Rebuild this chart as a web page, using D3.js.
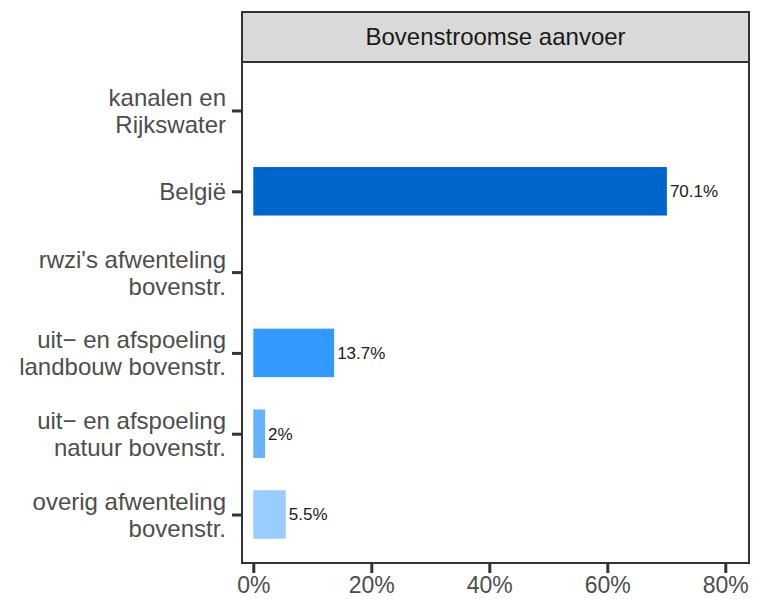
<!DOCTYPE html>
<html>
<head>
<meta charset="utf-8">
<script src="https://cdn.jsdelivr.net/npm/d3@7"></script>
<style>
  body { margin: 0; background: #fff; }
  text { font-family: "Liberation Sans", Arial, sans-serif; }
</style>
</head>
<body>
<div id="chart"></div>
<script>
// data
var categories = [
  ["kanalen en", "Rijkswater"],
  ["België"],
  ["rwzi's afwenteling", "bovenstr."],
  ["uit\u2212 en afspoeling", "landbouw bovenstr."],
  ["uit\u2212 en afspoeling", "natuur bovenstr."],
  ["overig afwenteling", "bovenstr."]
];
var values = [null, 70.1, null, 13.7, 2, 5.5];
var valueLabels = ["", "70.1%", "", "13.7%", "2%", "5.5%"];
var barColors = ["#0066CC", "#0066CC", "#0066CC", "#3399FF", "#66B2FF", "#99CCFF"];
var xTicks = [0, 20, 40, 60, 80];
var stripTitle = "Bovenstroomse aanvoer";

// boilerplate setup
var width = 757, height = 599;
var panel = { left: 242, right: 749, top: 62, bottom: 563 };
var stripTop = 12;

var svg = d3.select("#chart")
  .append("svg")
  .attr("width", width)
  .attr("height", height);

// scales
var x = d3.scaleLinear().domain([0, 80]).range([253.3, 725.3]);
var y = d3.scalePoint()
  .domain(d3.range(categories.length))
  .range([panel.top, panel.bottom])
  .padding(0.6);
var barH = y.step() * 0.6;

// strip on top of the panel
svg.append("rect")
  .attr("x", panel.left)
  .attr("y", stripTop)
  .attr("width", panel.right - panel.left)
  .attr("height", panel.top - stripTop)
  .attr("fill", "#D9D9D9")
  .attr("stroke", "#333333")
  .attr("stroke-width", 2);

svg.append("text")
  .attr("x", (panel.left + panel.right) / 2)
  .attr("y", (stripTop + panel.top) / 2)
  .attr("dy", "0.35em")
  .attr("text-anchor", "middle")
  .attr("font-size", 24)
  .attr("fill", "#1A1A1A")
  .text(stripTitle);

// bars
var rows = categories.map(function(c, i) {
  return { i: i, value: values[i], label: valueLabels[i], color: barColors[i] };
}).filter(function(d) { return d.value != null; });

svg.selectAll(".bar")
  .data(rows)
  .enter().append("rect")
  .attr("class", "bar")
  .attr("x", x(0))
  .attr("y", function(d) { return y(d.i) - barH / 2; })
  .attr("width", function(d) { return x(d.value) - x(0); })
  .attr("height", barH)
  .attr("fill", function(d) { return d.color; });

svg.selectAll(".barlabel")
  .data(rows)
  .enter().append("text")
  .attr("class", "barlabel")
  .attr("x", function(d) { return x(d.value) + 3; })
  .attr("y", function(d) { return y(d.i); })
  .attr("dy", "0.35em")
  .attr("font-size", 17)
  .attr("fill", "#1A1A1A")
  .text(function(d) { return d.label; });

// panel border
svg.append("rect")
  .attr("x", panel.left)
  .attr("y", panel.top)
  .attr("width", panel.right - panel.left)
  .attr("height", panel.bottom - panel.top)
  .attr("fill", "none")
  .attr("stroke", "#333333")
  .attr("stroke-width", 2);

// y axis
var yAxis = d3.axisLeft(y).tickSize(9).tickPadding(6).tickFormat("");
var gy = svg.append("g")
  .attr("transform", "translate(" + (panel.left - 1) + ",0)")
  .call(yAxis);
gy.select(".domain").remove();
gy.selectAll(".tick line").attr("stroke", "#333333").attr("stroke-width", 3);

var lineGap = 27;
gy.selectAll(".tick").each(function(i) {
  var lines = categories[i];
  var t = d3.select(this).append("text")
    .attr("x", -15)
    .attr("text-anchor", "end")
    .attr("font-size", 24)
    .attr("fill", "#4D4D4D");
  lines.forEach(function(l, k) {
    t.append("tspan")
      .attr("x", -15)
      .attr("y", (k - (lines.length - 1) / 2) * lineGap)
      .attr("dy", "0.35em")
      .text(l);
  });
});

// x axis
var xAxis = d3.axisBottom(x)
  .tickValues(xTicks)
  .tickSize(9)
  .tickPadding(4)
  .tickFormat(function(d) { return d + "%"; });
var gx = svg.append("g")
  .attr("transform", "translate(0," + (panel.bottom + 1) + ")")
  .call(xAxis);
gx.select(".domain").remove();
gx.selectAll(".tick line").attr("stroke", "#333333").attr("stroke-width", 3);
gx.selectAll(".tick text")
  .attr("font-size", 23)
  .attr("fill", "#4D4D4D")
  .attr("font-family", "Liberation Sans, Arial, sans-serif");
</script>
</body>
</html>
